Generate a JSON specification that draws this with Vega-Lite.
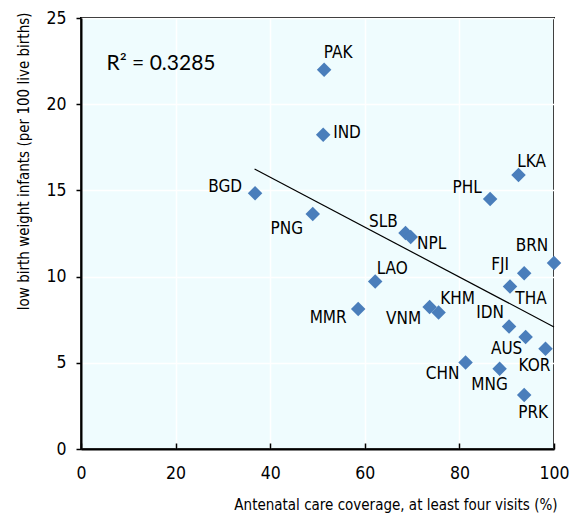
{
  "$schema": "https://vega.github.io/schema/vega-lite/v6.json",
  "width": 473,
  "height": 431,
  "autosize": {"type": "none"},
  "padding": {"left": 81, "top": 18, "right": 22, "bottom": 66},
  "background": "white",
  "config": {
    "view": {"fill": "#effcfe", "stroke": "black", "strokeWidth": 2},
    "axis": {
      "labelFont": "Liberation Sans Narrow, Arial Narrow, DejaVu Sans Condensed, sans-serif",
      "titleFont": "Liberation Sans Narrow, Arial Narrow, DejaVu Sans Condensed, sans-serif",
      "labelFontSize": 17.5,
      "titleFontSize": 15,
      "titleFontWeight": "normal",
      "labelColor": "black",
      "titleColor": "black",
      "domainColor": "black",
      "domainWidth": 2,
      "tickColor": "black",
      "tickWidth": 1.5,
      "gridColor": "white",
      "gridWidth": 1.5,
      "gridOpacity": 1,
      "labelFlush": false,
      "labelOverlap": false
    },
    "text": {"font": "Liberation Sans Narrow, Arial Narrow, DejaVu Sans Condensed, sans-serif", "fontSize": 17, "baseline": "middle", "align": "center", "color": "black"}
  },
  "datasets": {
    "pts": [
      {"code": "PAK", "coverage": 51.4, "lbw": 22.0},
      {"code": "IND", "coverage": 51.2, "lbw": 18.23},
      {"code": "LKA", "coverage": 92.5, "lbw": 15.9},
      {"code": "PHL", "coverage": 86.5, "lbw": 14.5},
      {"code": "BGD", "coverage": 36.8, "lbw": 14.83},
      {"code": "PNG", "coverage": 49.0, "lbw": 13.63},
      {"code": "SLB", "coverage": 68.6, "lbw": 12.53},
      {"code": "NPL", "coverage": 69.7, "lbw": 12.3},
      {"code": "BRN", "coverage": 100.0, "lbw": 10.79},
      {"code": "FJI", "coverage": 93.7, "lbw": 10.2},
      {"code": "THA", "coverage": 90.7, "lbw": 9.43},
      {"code": "LAO", "coverage": 62.2, "lbw": 9.72},
      {"code": "MMR", "coverage": 58.6, "lbw": 8.12},
      {"code": "VNM", "coverage": 73.7, "lbw": 8.24},
      {"code": "KHM", "coverage": 75.6, "lbw": 7.92},
      {"code": "IDN", "coverage": 90.5, "lbw": 7.11},
      {"code": "AUS", "coverage": 94.0, "lbw": 6.5},
      {"code": "KOR", "coverage": 98.2, "lbw": 5.82},
      {"code": "CHN", "coverage": 81.3, "lbw": 5.02},
      {"code": "MNG", "coverage": 88.5, "lbw": 4.66},
      {"code": "PRK", "coverage": 93.7, "lbw": 3.13}
    ],
    "trend": [
      {"coverage": 36.7, "lbw": 16.24},
      {"coverage": 100.0, "lbw": 7.08}
    ],
    "note": [
      {"coverage": 5.4, "lbw": 22.35, "label": "R² = 0.3285"}
    ]
  },
  "encoding": {
    "x": {"field": "coverage", "type": "quantitative", "scale": {"domain": [0, 100], "nice": false},
      "axis": {"values": [0, 20, 40, 60, 80, 100], "title": "Antenatal care coverage, at least four visits (%)", "titleAnchor": "end", "titleX": 476, "tickSize": -6, "labelPadding": 21, "titlePadding": 16}},
    "y": {"field": "lbw", "type": "quantitative", "scale": {"domain": [0, 25], "nice": false},
      "axis": {"values": [0, 5, 10, 15, 20, 25], "title": "low birth weight infants (per 100 live births)", "titleAnchor": "end", "titleY": -6, "tickSize": 5, "labelPadding": 10, "titlePadding": 14}}
  },
  "layer": [
    {"data": {"name": "trend"}, "mark": {"type": "line", "color": "black", "strokeWidth": 1.2}, "encoding": {}},
    {"data": {"name": "pts"}, "mark": {"type": "point", "shape": "diamond", "filled": true, "color": "#4a7ebb", "opacity": 1, "size": 210}, "encoding": {}},
    {"data": {"name": "note"}, "mark": {"type": "text", "align": "left", "font": "Lato, Open Sans, sans-serif", "fontSize": 21}, "encoding": {"text": {"field": "label"}}},
    {"data": {"name": "pts"}, "transform": [{"filter": "datum.code === 'PAK'"}], "mark": {"type": "text", "dx": 14, "dy": -17}, "encoding": {"text": {"field": "code"}}},
    {"data": {"name": "pts"}, "transform": [{"filter": "datum.code === 'IND'"}], "mark": {"type": "text", "align": "left", "dx": 10, "dy": -2}, "encoding": {"text": {"field": "code"}}},
    {"data": {"name": "pts"}, "transform": [{"filter": "datum.code === 'LKA'"}], "mark": {"type": "text", "dx": 13, "dy": -13}, "encoding": {"text": {"field": "code"}}},
    {"data": {"name": "pts"}, "transform": [{"filter": "datum.code === 'PHL'"}], "mark": {"type": "text", "dx": -23, "dy": -11}, "encoding": {"text": {"field": "code"}}},
    {"data": {"name": "pts"}, "transform": [{"filter": "datum.code === 'BGD'"}], "mark": {"type": "text", "align": "right", "dx": -13, "dy": -6}, "encoding": {"text": {"field": "code"}}},
    {"data": {"name": "pts"}, "transform": [{"filter": "datum.code === 'PNG'"}], "mark": {"type": "text", "dx": -26, "dy": 15}, "encoding": {"text": {"field": "code"}}},
    {"data": {"name": "pts"}, "transform": [{"filter": "datum.code === 'SLB'"}], "mark": {"type": "text", "dx": -22, "dy": -11}, "encoding": {"text": {"field": "code"}}},
    {"data": {"name": "pts"}, "transform": [{"filter": "datum.code === 'NPL'"}], "mark": {"type": "text", "dx": 21, "dy": 7}, "encoding": {"text": {"field": "code"}}},
    {"data": {"name": "pts"}, "transform": [{"filter": "datum.code === 'BRN'"}], "mark": {"type": "text", "dx": -22, "dy": -17}, "encoding": {"text": {"field": "code"}}},
    {"data": {"name": "pts"}, "transform": [{"filter": "datum.code === 'FJI'"}], "mark": {"type": "text", "dx": -24, "dy": -8}, "encoding": {"text": {"field": "code"}}},
    {"data": {"name": "pts"}, "transform": [{"filter": "datum.code === 'THA'"}], "mark": {"type": "text", "dx": 21, "dy": 13}, "encoding": {"text": {"field": "code"}}},
    {"data": {"name": "pts"}, "transform": [{"filter": "datum.code === 'LAO'"}], "mark": {"type": "text", "dx": 17, "dy": -12}, "encoding": {"text": {"field": "code"}}},
    {"data": {"name": "pts"}, "transform": [{"filter": "datum.code === 'MMR'"}], "mark": {"type": "text", "dx": -30, "dy": 9}, "encoding": {"text": {"field": "code"}}},
    {"data": {"name": "pts"}, "transform": [{"filter": "datum.code === 'VNM'"}], "mark": {"type": "text", "dx": -26, "dy": 12}, "encoding": {"text": {"field": "code"}}},
    {"data": {"name": "pts"}, "transform": [{"filter": "datum.code === 'KHM'"}], "mark": {"type": "text", "dx": 19, "dy": -13}, "encoding": {"text": {"field": "code"}}},
    {"data": {"name": "pts"}, "transform": [{"filter": "datum.code === 'IDN'"}], "mark": {"type": "text", "dx": -19, "dy": -13}, "encoding": {"text": {"field": "code"}}},
    {"data": {"name": "pts"}, "transform": [{"filter": "datum.code === 'AUS'"}], "mark": {"type": "text", "dx": -19, "dy": 12}, "encoding": {"text": {"field": "code"}}},
    {"data": {"name": "pts"}, "transform": [{"filter": "datum.code === 'KOR'"}], "mark": {"type": "text", "dx": -11, "dy": 17}, "encoding": {"text": {"field": "code"}}},
    {"data": {"name": "pts"}, "transform": [{"filter": "datum.code === 'CHN'"}], "mark": {"type": "text", "dx": -23, "dy": 12}, "encoding": {"text": {"field": "code"}}},
    {"data": {"name": "pts"}, "transform": [{"filter": "datum.code === 'MNG'"}], "mark": {"type": "text", "dx": -10, "dy": 16}, "encoding": {"text": {"field": "code"}}},
    {"data": {"name": "pts"}, "transform": [{"filter": "datum.code === 'PRK'"}], "mark": {"type": "text", "dx": 9, "dy": 18}, "encoding": {"text": {"field": "code"}}}
  ]
}
